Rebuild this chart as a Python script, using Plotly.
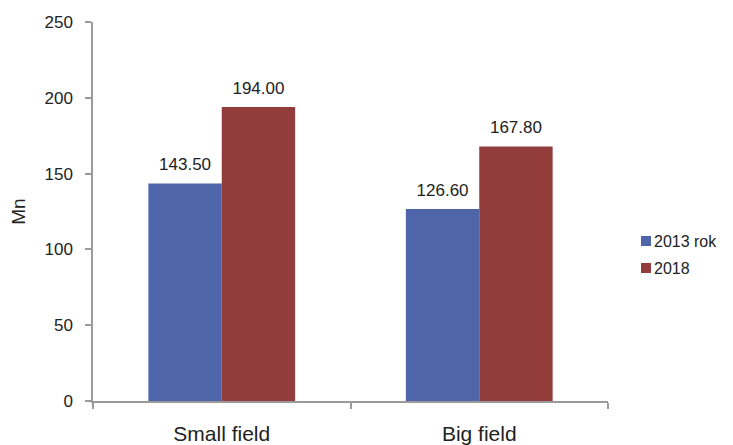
import plotly.graph_objects as go

categories = ["Small field", "Big field"]
series_names = ["2013 rok", "2018"]
values_2013 = [143.50, 126.60]
values_2018 = [194.00, 167.80]
y_ticks = [0, 50, 100, 150, 200, 250]

colors = ["#4F65AA", "#923D3C"]
text_color = "#222222"
axis_color = "#9A9A9A"

W, H = 733, 445
M = dict(l=93, r=125, t=22, b=44)
plot_w = W - M["l"] - M["r"]
plot_h = H - M["t"] - M["b"]
GAP = 0.43

fig = go.Figure()
for i, (name, vals, col) in enumerate(zip(series_names, [values_2013, values_2018], colors)):
    fig.add_trace(go.Bar(
        x=categories, y=vals, name=name, offsetgroup=str(i),
        marker=dict(color=col, line=dict(width=0)),
        showlegend=False,
    ))
    # value labels riding on invisible markers so they sit a little above the bars
    fig.add_trace(go.Scatter(
        x=categories, y=vals, offsetgroup=str(i), mode="markers+text",
        marker=dict(size=13, opacity=0),
        text=[f"{v:.2f}" for v in vals], textposition="top center",
        textfont=dict(size=17, color=text_color),
        cliponaxis=False, showlegend=False, hoverinfo="skip",
    ))

# legend drawn as small swatches with labels to the right of the plot
leg_x_px, leg_y_px, leg_step, sw = 641, 241, 27, 10
for i, (name, col) in enumerate(zip(series_names, colors)):
    cy = leg_y_px + i * leg_step
    x0 = (leg_x_px - M["l"]) / plot_w
    x1 = (leg_x_px + sw - M["l"]) / plot_w
    y0 = (H - M["b"] - (cy + sw / 2)) / plot_h
    y1 = (H - M["b"] - (cy - sw / 2)) / plot_h
    fig.add_shape(type="rect", xref="paper", yref="paper", x0=x0, x1=x1, y0=y0, y1=y1,
                  fillcolor=col, line=dict(width=0))
    fig.add_annotation(xref="paper", yref="paper", x=x1, y=(y0 + y1) / 2,
                       xanchor="left", yanchor="middle", xshift=1,
                       text=name, showarrow=False,
                       font=dict(size=16, color=text_color))

fig.update_layout(
    width=W, height=H,
    margin=dict(**M, autoexpand=False),
    paper_bgcolor="white", plot_bgcolor="white",
    font=dict(family="Arial, Liberation Sans, sans-serif", size=17, color=text_color),
    barmode="group", bargap=GAP, bargroupgap=0,
    scattermode="group", scattergap=GAP,
    showlegend=False,
)
fig.update_xaxes(
    showline=True, linecolor=axis_color, linewidth=1.5,
    ticks="outside", tickson="boundaries", ticklen=6, tickcolor=axis_color, tickwidth=1.5,
    tickfont=dict(size=21), ticklabelstandoff=13, showgrid=False,
)
fig.update_yaxes(
    range=[0, 250], tickvals=y_ticks,
    showline=True, linecolor=axis_color, linewidth=1.5,
    ticks="outside", ticklen=6, tickcolor=axis_color, tickwidth=1.5,
    tickfont=dict(size=17), ticklabelstandoff=9, showgrid=False, zeroline=False,
    title=dict(text="Mn", font=dict(size=19), standoff=14),
)

fig.write_html("out.html")
